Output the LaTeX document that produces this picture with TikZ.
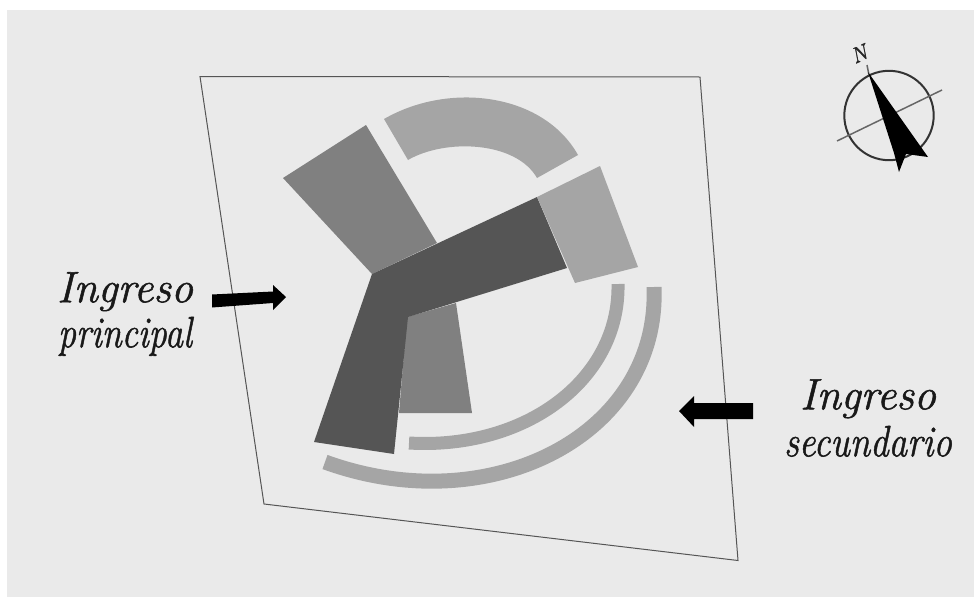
\documentclass[tikz,border=0pt]{standalone}
\usepackage{fontspec}
\setmainfont{Latin Modern Roman}[ItalicFeatures={FakeBold=1.2}]
\begin{document}
\begin{tikzpicture}[x=1pt,y=-1pt,
rotulo/.style={align=center,inner sep=0pt,font=\fontsize{44}{45}\selectfont\itshape,text=black!90},
ala/.style={draw=none},
curva/.style={draw=claro,line cap=butt},
flecha/.style={fill=black,draw=none}]
\definecolor{fondo}{RGB}{234,234,234}
\definecolor{oscuro}{RGB}{85,85,85}
\definecolor{medio}{RGB}{128,128,128}
\definecolor{claro}{RGB}{165,165,165}
\definecolor{linea}{RGB}{85,85,85}
\useasboundingbox (0,0) rectangle (974,597);
\fill[fondo] (7,10) rectangle (974,597);
% terreno
\draw[linea,line width=1pt] (200,76.5) -- (700,77) -- (738,560.5) -- (264,504) -- cycle;
% bloques
\fill[ala,medio] (283,178) -- (366,125) -- (437,243) -- (372,274) -- cycle;
\fill[ala,medio] (407,317) -- (456,303) -- (472,413) -- (399,413) -- cycle;
\fill[ala,oscuro] (372,274) -- (537,197) -- (567,268) -- (408,317) -- (394,454) -- (314,442) -- cycle;
\fill[ala,claro] (537,197) -- (600,166) -- (638,267) -- (575,283) -- cycle;
\fill[ala,claro] (384,119) .. controls (450,81) and (543.5,93.5) .. (578,155)
  -- (537,178) .. controls (516,141) and (445,138.4) .. (408,160) -- cycle;
% curvas
\draw[curva,line width=13pt] (618,284) .. controls (620,380) and (525,450) .. (409,443);
\draw[curva,line width=15pt] (654,287) .. controls (660,435) and (490,522) .. (325,462);
% ingresos
\fill[flecha] (212,294.5) -- (273,291.5) -- (273,285) -- (286,297) -- (273,310) -- (273,303) -- (212,307.5) -- cycle;
\fill[flecha] (753,403) -- (694,403) -- (694,396) -- (679,411) -- (694,427) -- (694,419) -- (753,419) -- cycle;
\node[rotulo] (principal) at (125,314) {Ingreso\\\scalebox{.82}[1]{principal}};
\node[rotulo] (secundario) at (868,418) {Ingreso\\[2pt]\scalebox{.84}[1]{secundario}};
% norte
\draw[black!80,line width=2pt] (889,115.5) circle (44.7);
\draw[black!60,line width=1.5pt] (837,141) -- (942,90);
\draw[black!60,line width=1.5pt] (867,65) -- (869,75);
\fill[black] (868,72) -- (928,157) -- (906,154) -- (899,172) -- (894,153) -- cycle;
\node[font=\fontsize{22}{22}\selectfont\itshape,rotate=25,inner sep=0pt,text=black!85] (norte) at (859,54) {N};
\end{tikzpicture}
\end{document}
